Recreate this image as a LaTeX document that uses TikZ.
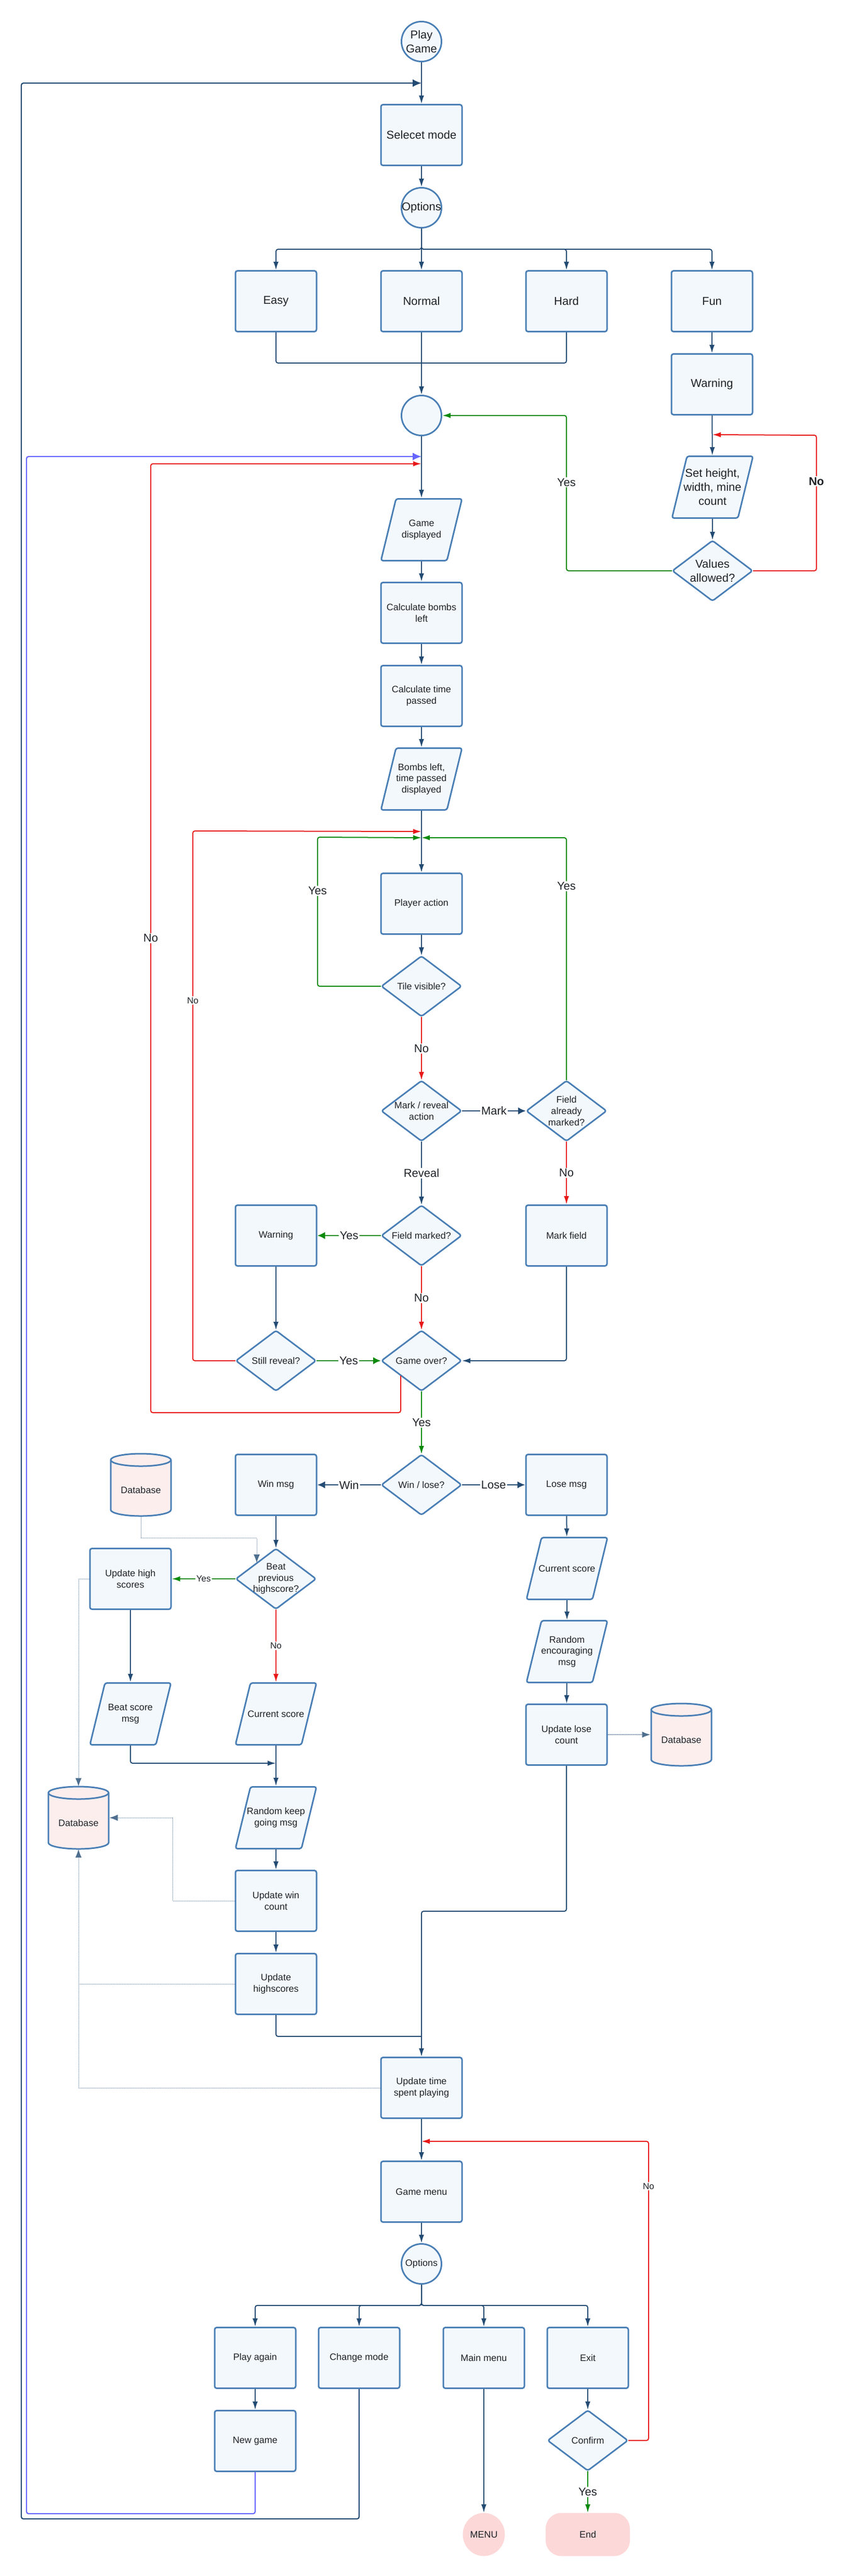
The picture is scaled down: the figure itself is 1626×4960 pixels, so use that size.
\documentclass[tikz,border=0pt]{standalone}
\usepackage{fontspec}
\setmainfont{Liberation Sans}
\usetikzlibrary{arrows.meta,calc,shapes.geometric}
\definecolor{navy}{HTML}{234B73}
\definecolor{bord}{HTML}{4A7FB5}
\definecolor{boxfill}{HTML}{F3F8FD}
\definecolor{grn}{HTML}{0A8A0A}
\definecolor{rd}{HTML}{E81818}
\definecolor{purp}{HTML}{6666FF}
\definecolor{dbfill}{HTML}{FDEEEE}
\definecolor{termfill}{HTML}{FDD8D8}
\definecolor{txt}{HTML}{1F2328}
\newcommand\fsL{\fontsize{11pt}{13.5pt}\selectfont}
\newcommand\fsS{\fontsize{9pt}{10.8pt}\selectfont}
\newcommand\fsT{\fontsize{8.5pt}{10pt}\selectfont}
\tikzset{
 shp/.style={draw=bord, fill=boxfill, line width=1.5pt, rounded corners=2pt, line join=round},
 box/.style={shp, minimum width=78pt, minimum height=58.5pt, inner sep=1pt, align=center, font=\fsS, text=txt},
 ghost/.style={inner sep=0pt, outer sep=0pt, align=center, font=\fsS, text=txt},
 term/.style={fill=termfill, draw=none, inner sep=0pt, font=\fsS, text=txt},
 conn/.style={draw=navy, line width=1pt, rounded corners=2pt},
 arr/.style={conn, -{Latex[length=8pt,width=5pt]}},
 tarr/.style={conn, line width=1.4pt, -{Latex[length=7.5pt,width=7pt]}},
 garr/.style={arr, draw=grn},
 tgarr/.style={tarr, draw=grn},
 rarr/.style={arr, draw=rd},
 larr/.style={conn, line width=1.1pt, -{Latex[length=8.5pt,width=7.5pt]}},
 parr/.style={larr, draw=purp},
 lbl/.style={fill=white, inner sep=1pt, font=\fsL, text=txt},
 slbl/.style={lbl, font=\fsT},
 blbl/.style={lbl, font=\fsL\bfseries},
 dot/.style={draw=navy!80, line width=0.5pt, dash pattern=on 0.4pt off 0.6pt},
 darr/.style={dot, -{Latex[length=8pt,width=6pt]}},
}
% diamond: options, name, x, y, text
\newcommand\DIA[5][]{%
  \draw[shp] (#3,#4-58) -- (#3+77,#4) -- (#3,#4+58) -- (#3-77,#4) -- cycle;
  \node[ghost, minimum width=78pt, minimum height=59pt, #1] (#2) at (#3,#4) {#5};}
% parallelogram
\newcommand\IO[5][]{%
  \draw[shp] (#3-49,#4-59.5) -- (#3+78,#4-59.5) -- (#3+49,#4+59.5) -- (#3-78,#4+59.5) -- cycle;
  \node[ghost, minimum width=79.5pt, minimum height=61pt, #1] (#2) at (#3,#4) {#5};}
% circle
\newcommand\CIR[5][]{%
  \draw[shp] (#3,#4) circle[radius=19.25pt];
  \node[ghost, minimum width=40pt, minimum height=40pt, #1] (#2) at (#3,#4) {#5};}
% database cylinder
\newcommand\DB[3]{%
  \draw[shp, fill=dbfill, rounded corners=0pt] (#2-58,#3-48) -- (#2-58,#3+48)
     arc[start angle=180, end angle=360, x radius=29pt, y radius=6pt] -- (#2+58,#3-48)
     arc[start angle=0, end angle=180, x radius=29pt, y radius=6pt] -- cycle;
  \draw[draw=bord, line width=1.5pt] (#2-58,#3-48) arc[start angle=180, end angle=360, x radius=29pt, y radius=6pt];
  \node[ghost, minimum width=59.5pt, minimum height=60.5pt, text height=16.5pt, text depth=0pt] (#1) at (#2,#3) {Database};}
\begin{document}
\begin{tikzpicture}[x=0.5pt,y=-0.5pt]
\useasboundingbox (0,0) rectangle (1626,4960);
% ---------- nodes ----------
\CIR[font=\fsL]{play}{811}{80}{Play\\Game}
\node[box, font=\fsL] (sel) at (811,260) {Selecet mode};
\CIR[font=\fsL]{opt1}{811}{400}{Options}
\node[box, font=\fsL] (easy) at (531,580) {Easy};
\node[box, font=\fsL] (normal) at (811,580) {Normal};
\node[box, font=\fsL] (hard) at (1090,580) {Hard};
\node[box, font=\fsL] (fun) at (1370,580) {Fun};
\node[box, font=\fsL] (warn1) at (1370,740) {Warning};
\CIR{merge}{811}{800}{}
\IO[font=\fsL]{setv}{1371}{938}{Set height,\\width, mine\\count}
\DIA[font=\fsL]{valok}{1371}{1099}{Values\\allowed?}
\IO{gamedisp}{811}{1020}{Game\\displayed}
\node[box] (calcb) at (811,1180) {Calculate bombs\\left};
\node[box] (calct) at (811,1340) {Calculate time\\passed};
\IO{bombsdisp}{811}{1500}{Bombs left,\\time passed\\displayed}
\node[box] (player) at (811,1740) {Player action};
\DIA{tilevis}{811}{1899}{Tile visible?}
\DIA{markrev}{811}{2139}{Mark / reveal\\action}
\DIA{famarked}{1090}{2139}{Field\\already\\marked?}
\node[box] (warn2) at (531,2379) {Warning};
\DIA{fmarked}{811}{2379}{Field marked?}
\node[box] (markfield) at (1090,2379) {Mark field};
\DIA{stillrev}{531}{2620}{Still reveal?}
\DIA{gameover}{811}{2620}{Game over?}
\DIA{winlose}{811}{2859}{Win / lose?}
\node[box] (winmsg) at (531,2859) {Win msg};
\node[box] (losemsg) at (1090,2859) {Lose msg};
\DB{db1}{271}{2859}
\DIA{beat}{531}{3040}{Beat\\previous\\highscore?}
\node[box] (updhigh) at (251,3040) {Update high\\scores};
\IO{curscore2}{1091}{3020}{Current score}
\IO{randenc}{1091}{3180}{Random\\encouraging\\msg}
\node[box] (updlose) at (1090,3340) {Update lose\\count};
\DB{db3}{1311}{3340}
\IO{beatmsg}{251}{3300}{Beat score\\msg}
\IO{curscore1}{531}{3300}{Current score}
\IO{randkeep}{531}{3500}{Random keep\\going msg}
\DB{db2}{151}{3500}
\node[box] (updwin) at (531,3660) {Update win\\count};
\node[box] (updhs) at (531,3820) {Update\\highscores};
\node[box] (updtime) at (811,4020) {Update time\\spent playing};
\node[box] (gmenu) at (811,4220) {Game menu};
\CIR{opt2}{811}{4359}{Options}
\node[box] (playagain) at (491,4540) {Play again};
\node[box] (chmode) at (691,4540) {Change mode};
\node[box] (mainmenu) at (931,4540) {Main menu};
\node[box] (exit) at (1131,4540) {Exit};
\node[box] (newgame) at (491,4700) {New game};
\DIA{confirm}{1131}{4699}{Confirm}
\node[term, ellipse, minimum width=40.5pt, minimum height=41.5pt] (menu) at (931,4880) {MENU};
\node[term, rectangle, rounded corners=15pt, minimum width=81pt, minimum height=41.5pt] (endn) at (1131,4880) {End};
% ---------- connectors ----------
\draw[arr] (play) -- (sel);
\draw[arr] (sel) -- (opt1);
\draw[arr] (opt1.south) -- ++(0,40) -| (easy.north);
\draw[arr] (opt1.south) -- ++(0,40) -| (hard.north);
\draw[arr] (opt1.south) -- ++(0,40) -| (fun.north);
\draw[arr] (opt1) -- (normal);
\draw[conn] (easy.south) |- ($(normal.south)+(0,59)$);
\draw[conn] (hard.south) |- ($(normal.south)+(0,59)$);
\draw[arr] (normal) -- (merge);
\draw[arr] (fun) -- (warn1);
\draw[arr] (warn1) -- (setv);
\draw[arr] (setv) -- (valok);
\draw[rarr] (valok.east) -- ++(122,0) -- ++(0,-261) node[blbl,pos=0.66]{No} -- ($(setv.north)+(0,-40)$);
\draw[garr] (valok.west) -- ++(-203,0) -- ++(0,-299) node[lbl,pos=0.57]{Yes} -- (merge.east);
\draw[arr] (merge) -- (gamedisp);
\draw[larr] (chmode.south) -- ++(0,250) -| ($(play.south)+(-770,40)$) -- ($(play.south)+(0,40)$);
\draw[parr] (newgame.south) -- ++(0,80) -| ($(merge.south)+(-760,39)$) -- ($(merge.south)+(0,39)$);
\draw[rarr] ($(gameover.center)+(-40,29)$) -- ++(0,71) -- ++(-481,0) -- ($(merge.south)+(-521,53)$) node[lbl,pos=0.5]{No} -- ($(merge.south)+(0,53)$);
\draw[arr] (gamedisp) -- (calcb);
\draw[arr] (calcb) -- (calct);
\draw[arr] (calct) -- (bombsdisp);
\draw[arr] (bombsdisp) -- (player);
\draw[rarr] (stillrev.west) -- ++(-82,0) -- ++(0,-1020) node[slbl,pos=0.68]{No} -- ($(player.north)+(0,-79)$);
\draw[garr] (tilevis.west) -- ++(-122,0) -- ++(0,-287) node[lbl,pos=0.64]{Yes} -- ($(player.north)+(0,-67)$);
\draw[garr] (famarked.north) -- ($(player.north)+(279,-67)$) node[lbl,pos=0.8]{Yes} -- ($(player.north)+(0,-67)$);
\draw[arr] (player) -- (tilevis);
\draw[rarr] (tilevis) -- node[lbl]{No} (markrev);
\draw[tarr] (markrev) -- node[lbl]{Mark} (famarked);
\draw[arr] (markrev) -- node[lbl]{Reveal} (fmarked);
\draw[rarr] (famarked) -- node[lbl]{No} (markfield);
\draw[tgarr] (fmarked) -- node[lbl]{Yes} (warn2);
\draw[rarr] (fmarked) -- node[lbl]{No} (gameover);
\draw[arr] (warn2) -- (stillrev);
\draw[tgarr] (stillrev) -- node[lbl]{Yes} (gameover);
\draw[arr] (markfield.south) |- (gameover.east);
\draw[garr] (gameover) -- node[lbl]{Yes} (winlose);
\draw[tarr] (winlose) -- node[lbl]{Win} (winmsg);
\draw[tarr] (winlose) -- node[lbl]{Lose} (losemsg);
\draw[arr] (winmsg) -- (beat);
\draw[darr] (db1.south) -- ++(0,42) -| ($(beat.center)+(-37,-31)$);
\draw[garr] (beat) -- node[slbl]{Yes} (updhigh);
\draw[rarr] (beat) -- node[slbl]{No} (curscore1);
\draw[arr] (updhigh) -- (beatmsg);
\draw[darr] (updhigh.west) -| (db2.north);
\draw[arr] (beatmsg.south) |- ($(curscore1.south)+(0,34)$);
\draw[arr] (curscore1) -- (randkeep);
\draw[arr] (randkeep) -- (updwin);
\draw[darr] (updwin.west) -- ++(-119,0) |- (db2.east);
\draw[arr] (updwin) -- (updhs);
\draw[darr] (updhs.west) -| (db2.south);
\draw[dot] (updtime.west) -| (updhs.west -| db2.south);
\draw[conn] (updhs.south) |- ($(updtime.north)+(0,-39)$);
\draw[arr] (losemsg) -- (curscore2);
\draw[arr] (curscore2) -- (randenc);
\draw[arr] (randenc) -- (updlose);
\draw[darr, line width=0.9pt] (updlose) -- (db3);
\draw[arr] (updlose.south) -- ++(0,280) -| (updtime.north);
\draw[arr] (updtime) -- (gmenu);
\draw[rarr] (confirm.east) -- ++(39,0) -- ($(gmenu.north)+(437,-37)$) node[slbl,pos=0.85]{No} -- ($(gmenu.north)+(0,-37)$);
\draw[arr] (gmenu) -- (opt2);
\draw[arr] (opt2.south) -- ++(0,40) -| (playagain.north);
\draw[arr] (opt2.south) -- ++(0,40) -| (chmode.north);
\draw[arr] (opt2.south) -- ++(0,40) -| (mainmenu.north);
\draw[arr] (opt2.south) -- ++(0,40) -| (exit.north);
\draw[arr] (playagain) -- (newgame);
\draw[arr] (mainmenu) -- (menu);
\draw[arr] (exit) -- (confirm);
\draw[garr] (confirm) -- node[lbl]{Yes} (endn);
\end{tikzpicture}
\end{document}
